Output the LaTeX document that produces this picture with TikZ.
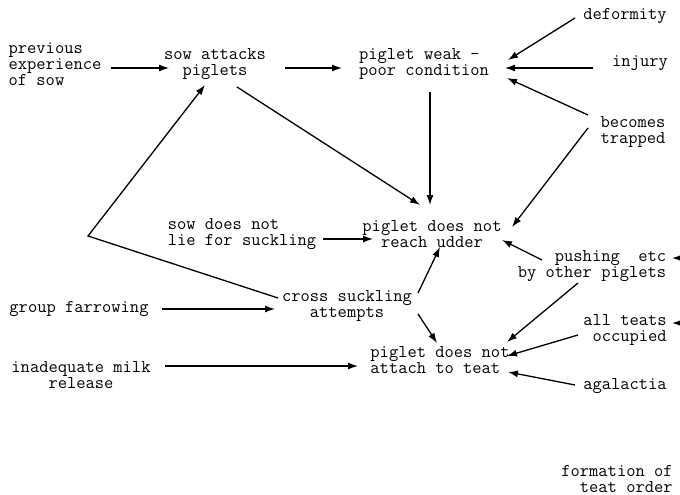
\documentclass[tikz,border=0pt]{standalone}
\usepackage{fontspec}
\usetikzlibrary{arrows.meta}
\begin{document}
\begin{tikzpicture}[x=1pt,y=-1pt,
  lbl/.style={inner sep=0pt,font=\fontsize{18}{16}\selectfont\ttfamily},
  arr/.style={line width=1.3pt,-{Latex[length=10pt,width=7pt]}},
  ln/.style={line width=1.3pt}]
\useasboundingbox (0,0) rectangle (680,495);
% nodes
\node[lbl,align=left]   (prev)    at (55,64)   {previous\\experience\\of sow};
\node[lbl,align=center] (atk)     at (215,64)  {sow attacks\\piglets};
\node[lbl,align=left]   (weak)    at (424,64)  {piglet weak -\\poor condition};
\node[lbl]              (deform)  at (625,16)  {deformity};
\node[lbl]              (injury)  at (640,63)  {injury};
\node[lbl,align=left]   (trapped) at (633,132) {becomes\\trapped};
\node[lbl,align=left]   (lie)     at (242,234) {sow does not\\lie for suckling};
\node[lbl,align=center] (reach)   at (432,234) {piglet does not\\reach udder};
\node[lbl,align=right]  (push)    at (592,266) {pushing\ \ etc\\by other piglets};
\node[lbl]              (group)   at (79,309)  {group farrowing};
\node[lbl,align=center] (cross)   at (347,306) {cross suckling\\attempts};
\node[lbl,align=left]   (attach)  at (440,360) {piglet does not\\attach to teat};
\node[lbl,align=right]  (teats)   at (625,330) {all teats\\occupied};
\node[lbl]              (agal)    at (625,386) {agalactia};
\node[lbl,align=center] (milk)    at (81,375)  {inadequate milk\\release};
\node[lbl,align=right]  (form)    at (617,479) {formation of\\teat order};
\coordinate (corner) at (88,236);
\coordinate (edgeA) at (686,258);
\coordinate (edgeB) at (686,323);
% connectors
\draw[arr] ([shift={(56,4)}]prev.center) -- ([shift={(-46,4)}]atk.center);
\draw[arr] ([shift={(70,4)}]atk.center) -- ([shift={(-82,4)}]weak.center);
\draw[arr] ([shift={(-47,5)}]injury.center) -- ([shift={(81,4)}]weak.center);
\draw[arr] ([shift={(-50,2)}]deform.center) -- ([shift={(84,-4)}]weak.center);
\draw[arr] ([shift={(-45,-17)}]trapped.center) -- ([shift={(83,14)}]weak.center);
\draw[arr] ([shift={(-45,-4)}]trapped.center) -- ([shift={(80,-7)}]reach.center);
\draw[arr] ([shift={(6,28)}]weak.center) -- ([shift={(-2,-29)}]reach.center);
\draw[arr] ([shift={(22,23)}]atk.center) -- ([shift={(-12,-29)}]reach.center);
\draw[arr] ([shift={(81,5)}]lie.center) -- ([shift={(-59,5)}]reach.center);
\draw[arr] ([shift={(-50,-6)}]push.center) -- ([shift={(70,6)}]reach.center);
\draw[arr] ([shift={(71,-13)}]cross.center) -- ([shift={(8,13)}]reach.center);
\draw[arr] ([shift={(71,8)}]cross.center) -- ([shift={(-3,-17)}]attach.center);
\draw[arr] ([shift={(83,0)}]group.center) -- ([shift={(-72,3)}]cross.center);
\draw[arr] ([shift={(-14,17)}]push.center) -- ([shift={(67,-18)}]attach.center);
\draw[arr] ([shift={(-47,5)}]teats.center) -- ([shift={(67,-4)}]attach.center);
\draw[arr] ([shift={(-50,-1)}]agal.center) -- ([shift={(68,12)}]attach.center);
\draw[arr] ([shift={(84,-9)}]milk.center) -- ([shift={(-82,6)}]attach.center);
\draw[arr] ([shift={(-69,-8)}]cross.center) -- (corner) -- ([shift={(-10,21)}]atk.center);
\draw[arr] (edgeA) -- ([shift={(80,-8)}]push.center);
\draw[arr] (edgeB) -- ([shift={(47,-7)}]teats.center);
\end{tikzpicture}
\end{document}
